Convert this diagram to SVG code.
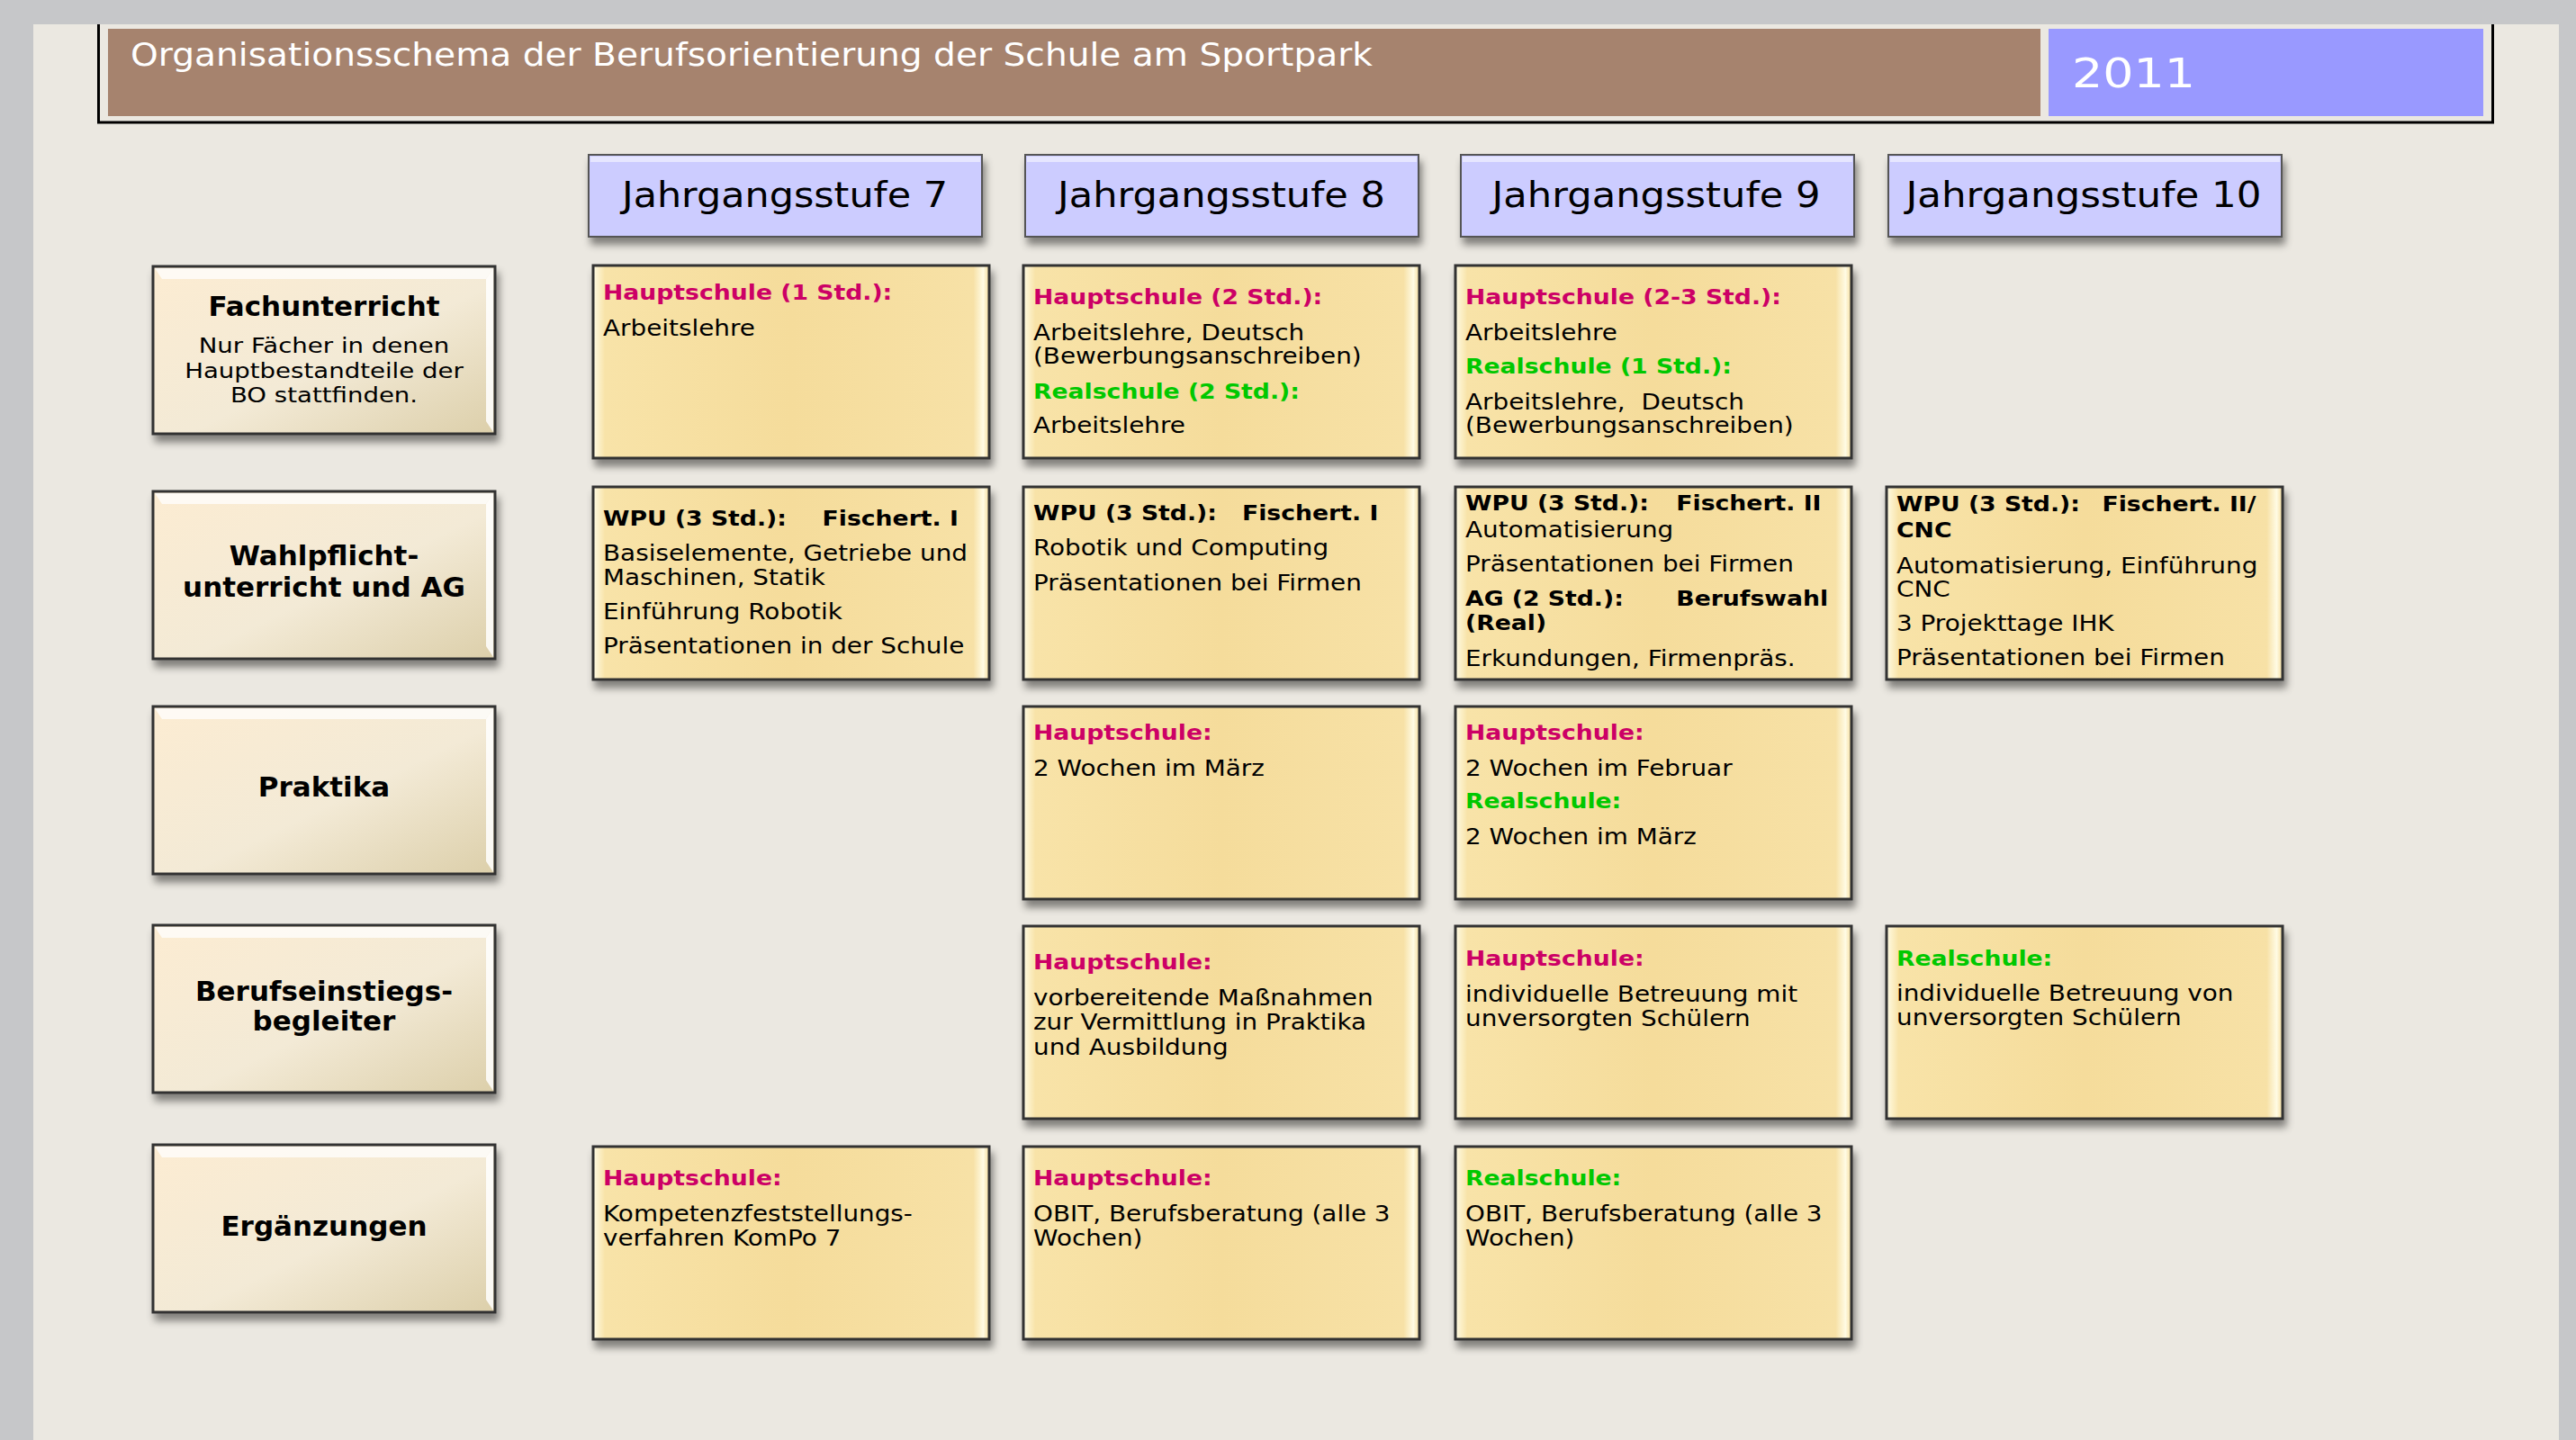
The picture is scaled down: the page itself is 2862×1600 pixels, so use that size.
<svg xmlns="http://www.w3.org/2000/svg" width="2862" height="1600" viewBox="0 0 2862 1600">
<style>
text{white-space:pre}
.hd{font-family:"DejaVu Sans",sans-serif;font-size:23px;font-weight:bold}
.bd{font-family:"DejaVu Sans",sans-serif;font-size:24px;fill:#000}
.hs{fill:#cc0066}
.rs{fill:#00c800}
.bk{fill:#000}
.lt{font-family:"DejaVu Sans",sans-serif;font-size:31px;font-weight:bold;fill:#000;text-anchor:middle}
.ls{font-family:"DejaVu Sans",sans-serif;font-size:23px;fill:#000;text-anchor:middle}
.jg{font-family:"DejaVu Sans",sans-serif;font-size:39px;fill:#000;text-anchor:middle}
.cell{fill:url(#cellG);stroke:#333;stroke-width:3}
.lab{fill:url(#labG);stroke:#333;stroke-width:3}
.jbox{fill:#ccccff;stroke:#555;stroke-width:2}
</style>
<defs>
<linearGradient id="cellG" x1="0" y1="0" x2="1" y2="0">
<stop offset="0" stop-color="#fffbe4"/>
<stop offset="0.03" stop-color="#f8e3a8"/>
<stop offset="0.5" stop-color="#f5dc9b"/>
<stop offset="0.96" stop-color="#f7e1a6"/>
<stop offset="0.985" stop-color="#fffbe4"/>
<stop offset="1" stop-color="#f5dc9b"/>
</linearGradient>
<linearGradient id="labG" x1="0" y1="0" x2="1" y2="1">
<stop offset="0" stop-color="#fcecd2"/>
<stop offset="0.55" stop-color="#f3ead6"/>
<stop offset="1" stop-color="#dccfaa"/>
</linearGradient>
<filter id="sh" x="-5%" y="-5%" width="115%" height="125%">
<feDropShadow dx="3" dy="8" stdDeviation="4" flood-color="#000" flood-opacity="0.45"/>
</filter>
</defs>

<rect x="0" y="0" width="2862" height="1600" fill="#c6c7c9"/>
<rect x="37" y="27" width="2806" height="1573" fill="#ebe8e1"/>

<g id="header">
<rect x="109.5" y="10" width="2660" height="126" fill="#ebe8e1" stroke="#000" stroke-width="3"/>
<rect x="0" y="0" width="2862" height="27" fill="#c6c7c9"/>
<rect x="120" y="32" width="2147" height="97" fill="#a6836e"/>
<rect x="2276" y="32" width="483" height="97" fill="#9999ff"/>
<text x="145" y="73" font-family="DejaVu Sans, sans-serif" font-size="35" fill="#fff" textLength="1380" lengthAdjust="spacingAndGlyphs">Organisationsschema der Berufsorientierung der Schule am Sportpark</text>
<text x="2302" y="97" font-family="DejaVu Sans, sans-serif" font-size="44" fill="#fff" textLength="137" lengthAdjust="spacingAndGlyphs">2011</text>
</g>

<g id="jg7"><rect class="jbox" x="654" y="172" width="437" height="91" filter="url(#sh)"/><rect x="656" y="174" width="433" height="6" fill="#e6e6ff"/><text class="jg" x="872" y="230" textLength="362" lengthAdjust="spacingAndGlyphs">Jahrgangsstufe 7</text></g>
<g id="jg8"><rect class="jbox" x="1139" y="172" width="437" height="91" filter="url(#sh)"/><rect x="1141" y="174" width="433" height="6" fill="#e6e6ff"/><text class="jg" x="1357" y="230" textLength="364" lengthAdjust="spacingAndGlyphs">Jahrgangsstufe 8</text></g>
<g id="jg9"><rect class="jbox" x="1623" y="172" width="437" height="91" filter="url(#sh)"/><rect x="1625" y="174" width="433" height="6" fill="#e6e6ff"/><text class="jg" x="1840" y="230" textLength="365" lengthAdjust="spacingAndGlyphs">Jahrgangsstufe 9</text></g>
<g id="jg10"><rect class="jbox" x="2098" y="172" width="437" height="91" filter="url(#sh)"/><rect x="2100" y="174" width="433" height="6" fill="#e6e6ff"/><text class="jg" x="2315" y="230" textLength="395" lengthAdjust="spacingAndGlyphs">Jahrgangsstufe 10</text></g>

<!-- row labels -->
<g id="lab1" transform="translate(170,296)">
<rect class="lab" width="380" height="186" filter="url(#sh)"/>
<polygon points="2,2 378,2 370,14 10,14" fill="#fff" opacity="0.75"/>
<polygon points="378,2 378,184 370,172 370,14" fill="#fff" opacity="0.85"/>
<text class="lt" x="190" y="55">Fachunterricht</text>
<g transform="translate(190,0) scale(1.2,1)">
<text class="ls" x="0" y="96">Nur Fächer in denen</text>
<text class="ls" x="0" y="124">Hauptbestandteile der</text>
<text class="ls" x="0" y="151">BO stattfinden.</text>
</g>
</g>
<g id="lab2" transform="translate(170,546)">
<rect class="lab" width="380" height="186" filter="url(#sh)"/>
<polygon points="2,2 378,2 370,14 10,14" fill="#fff" opacity="0.75"/>
<polygon points="378,2 378,184 370,172 370,14" fill="#fff" opacity="0.85"/>
<text class="lt" x="190" y="82">Wahlpflicht-</text>
<text class="lt" x="190" y="117">unterricht und AG</text>
</g>
<g id="lab3" transform="translate(170,785)">
<rect class="lab" width="380" height="186" filter="url(#sh)"/>
<polygon points="2,2 378,2 370,14 10,14" fill="#fff" opacity="0.75"/>
<polygon points="378,2 378,184 370,172 370,14" fill="#fff" opacity="0.85"/>
<text class="lt" x="190" y="100">Praktika</text>
</g>
<g id="lab4" transform="translate(170,1028)">
<rect class="lab" width="380" height="186" filter="url(#sh)"/>
<polygon points="2,2 378,2 370,14 10,14" fill="#fff" opacity="0.75"/>
<polygon points="378,2 378,184 370,172 370,14" fill="#fff" opacity="0.85"/>
<text class="lt" x="190" y="84">Berufseinstiegs-</text>
<text class="lt" x="190" y="117">begleiter</text>
</g>
<g id="lab5" transform="translate(170,1272)">
<rect class="lab" width="380" height="186" filter="url(#sh)"/>
<polygon points="2,2 378,2 370,14 10,14" fill="#fff" opacity="0.75"/>
<polygon points="378,2 378,184 370,172 370,14" fill="#fff" opacity="0.85"/>
<text class="lt" x="190" y="101">Ergänzungen</text>
</g>

<!-- Row 1: Fachunterricht -->
<g id="r1c7" transform="translate(659,295)">
<rect class="cell" width="440" height="214" filter="url(#sh)"/>
<g transform="translate(11,0) scale(1.16,1)">
<text class="hd hs" x="0" y="38">Hauptschule (1 Std.):</text>
<text class="bd" x="0" y="78">Arbeitslehre</text>
</g>
</g>
<g id="r1c8" transform="translate(1137,295)">
<rect class="cell" width="440" height="214" filter="url(#sh)"/>
<g transform="translate(11,0) scale(1.16,1)">
<text class="hd hs" x="0" y="43">Hauptschule (2 Std.):</text>
<text class="bd" x="0" y="83">Arbeitslehre, Deutsch</text>
<text class="bd" x="0" y="109">(Bewerbungsanschreiben)</text>
<text class="hd rs" x="0" y="148">Realschule (2 Std.):</text>
<text class="bd" x="0" y="186">Arbeitslehre</text>
</g>
</g>
<g id="r1c9" transform="translate(1617,295)">
<rect class="cell" width="440" height="214" filter="url(#sh)"/>
<g transform="translate(11,0) scale(1.16,1)">
<text class="hd hs" x="0" y="43">Hauptschule (2-3 Std.):</text>
<text class="bd" x="0" y="83">Arbeitslehre</text>
<text class="hd rs" x="0" y="120">Realschule (1 Std.):</text>
<text class="bd" x="0" y="160">Arbeitslehre,  Deutsch</text>
<text class="bd" x="0" y="186">(Bewerbungsanschreiben)</text>
</g>
</g>

<!-- Row 2: Wahlpflicht -->
<g id="r2c7" transform="translate(659,541)">
<rect class="cell" width="440" height="214" filter="url(#sh)"/>
<g transform="translate(11,0) scale(1.16,1)">
<text class="hd bk" x="0" y="43">WPU (3 Std.):</text>
<text class="hd bk" x="210" y="43">Fischert. I</text>
<text class="bd" x="0" y="82">Basiselemente, Getriebe und</text>
<text class="bd" x="0" y="109">Maschinen, Statik</text>
<text class="bd" x="0" y="147">Einführung Robotik</text>
<text class="bd" x="0" y="185">Präsentationen in der Schule</text>
</g>
</g>
<g id="r2c8" transform="translate(1137,541)">
<rect class="cell" width="440" height="214" filter="url(#sh)"/>
<g transform="translate(11,0) scale(1.16,1)">
<text class="hd bk" x="0" y="37">WPU (3 Std.):</text>
<text class="hd bk" x="200" y="37">Fischert. I</text>
<text class="bd" x="0" y="76">Robotik und Computing</text>
<text class="bd" x="0" y="115">Präsentationen bei Firmen</text>
</g>
</g>
<g id="r2c9" transform="translate(1617,541)">
<rect class="cell" width="440" height="214" filter="url(#sh)"/>
<g transform="translate(11,0) scale(1.16,1)">
<text class="hd bk" x="0" y="26">WPU (3 Std.):</text>
<text class="hd bk" x="202" y="26">Fischert. II</text>
<text class="bd" x="0" y="56">Automatisierung</text>
<text class="bd" x="0" y="94">Präsentationen bei Firmen</text>
<text class="hd bk" x="0" y="132">AG (2 Std.):</text>
<text class="hd bk" x="202" y="132">Berufswahl</text>
<text class="hd bk" x="0" y="159">(Real)</text>
<text class="bd" x="0" y="199">Erkundungen, Firmenpräs.</text>
</g>
</g>
<g id="r2c10" transform="translate(2096,541)">
<rect class="cell" width="440" height="214" filter="url(#sh)"/>
<g transform="translate(11,0) scale(1.16,1)">
<text class="hd bk" x="0" y="27">WPU (3 Std.):</text>
<text class="hd bk" x="197" y="27">Fischert. II/</text>
<text class="hd bk" x="0" y="56">CNC</text>
<text class="bd" x="0" y="96">Automatisierung, Einführung</text>
<text class="bd" x="0" y="122">CNC</text>
<text class="bd" x="0" y="160">3 Projekttage IHK</text>
<text class="bd" x="0" y="198">Präsentationen bei Firmen</text>
</g>
</g>

<!-- Row 3: Praktika -->
<g id="r3c8" transform="translate(1137,785)">
<rect class="cell" width="440" height="214" filter="url(#sh)"/>
<g transform="translate(11,0) scale(1.16,1)">
<text class="hd hs" x="0" y="37">Hauptschule:</text>
<text class="bd" x="0" y="77">2 Wochen im März</text>
</g>
</g>
<g id="r3c9" transform="translate(1617,785)">
<rect class="cell" width="440" height="214" filter="url(#sh)"/>
<g transform="translate(11,0) scale(1.16,1)">
<text class="hd hs" x="0" y="37">Hauptschule:</text>
<text class="bd" x="0" y="77">2 Wochen im Februar</text>
<text class="hd rs" x="0" y="113">Realschule:</text>
<text class="bd" x="0" y="153">2 Wochen im März</text>
</g>
</g>

<!-- Row 4: Berufseinstiegsbegleiter -->
<g id="r4c8" transform="translate(1137,1029)">
<rect class="cell" width="440" height="214" filter="url(#sh)"/>
<g transform="translate(11,0) scale(1.16,1)">
<text class="hd hs" x="0" y="48">Hauptschule:</text>
<text class="bd" x="0" y="88">vorbereitende Maßnahmen</text>
<text class="bd" x="0" y="115">zur Vermittlung in Praktika</text>
<text class="bd" x="0" y="143">und Ausbildung</text>
</g>
</g>
<g id="r4c9" transform="translate(1617,1029)">
<rect class="cell" width="440" height="214" filter="url(#sh)"/>
<g transform="translate(11,0) scale(1.16,1)">
<text class="hd hs" x="0" y="44">Hauptschule:</text>
<text class="bd" x="0" y="84">individuelle Betreuung mit</text>
<text class="bd" x="0" y="111">unversorgten Schülern</text>
</g>
</g>
<g id="r4c10" transform="translate(2096,1029)">
<rect class="cell" width="440" height="214" filter="url(#sh)"/>
<g transform="translate(11,0) scale(1.16,1)">
<text class="hd rs" x="0" y="44">Realschule:</text>
<text class="bd" x="0" y="83">individuelle Betreuung von</text>
<text class="bd" x="0" y="110">unversorgten Schülern</text>
</g>
</g>

<!-- Row 5: Ergänzungen -->
<g id="r5c7" transform="translate(659,1274)">
<rect class="cell" width="440" height="214" filter="url(#sh)"/>
<g transform="translate(11,0) scale(1.16,1)">
<text class="hd hs" x="0" y="43">Hauptschule:</text>
<text class="bd" x="0" y="83">Kompetenzfeststellungs-</text>
<text class="bd" x="0" y="110">verfahren KomPo 7</text>
</g>
</g>
<g id="r5c8" transform="translate(1137,1274)">
<rect class="cell" width="440" height="214" filter="url(#sh)"/>
<g transform="translate(11,0) scale(1.16,1)">
<text class="hd hs" x="0" y="43">Hauptschule:</text>
<text class="bd" x="0" y="83">OBIT, Berufsberatung (alle 3</text>
<text class="bd" x="0" y="110">Wochen)</text>
</g>
</g>
<g id="r5c9" transform="translate(1617,1274)">
<rect class="cell" width="440" height="214" filter="url(#sh)"/>
<g transform="translate(11,0) scale(1.16,1)">
<text class="hd rs" x="0" y="43">Realschule:</text>
<text class="bd" x="0" y="83">OBIT, Berufsberatung (alle 3</text>
<text class="bd" x="0" y="110">Wochen)</text>
</g>
</g>

<g id="connectors"></g>
</svg>
